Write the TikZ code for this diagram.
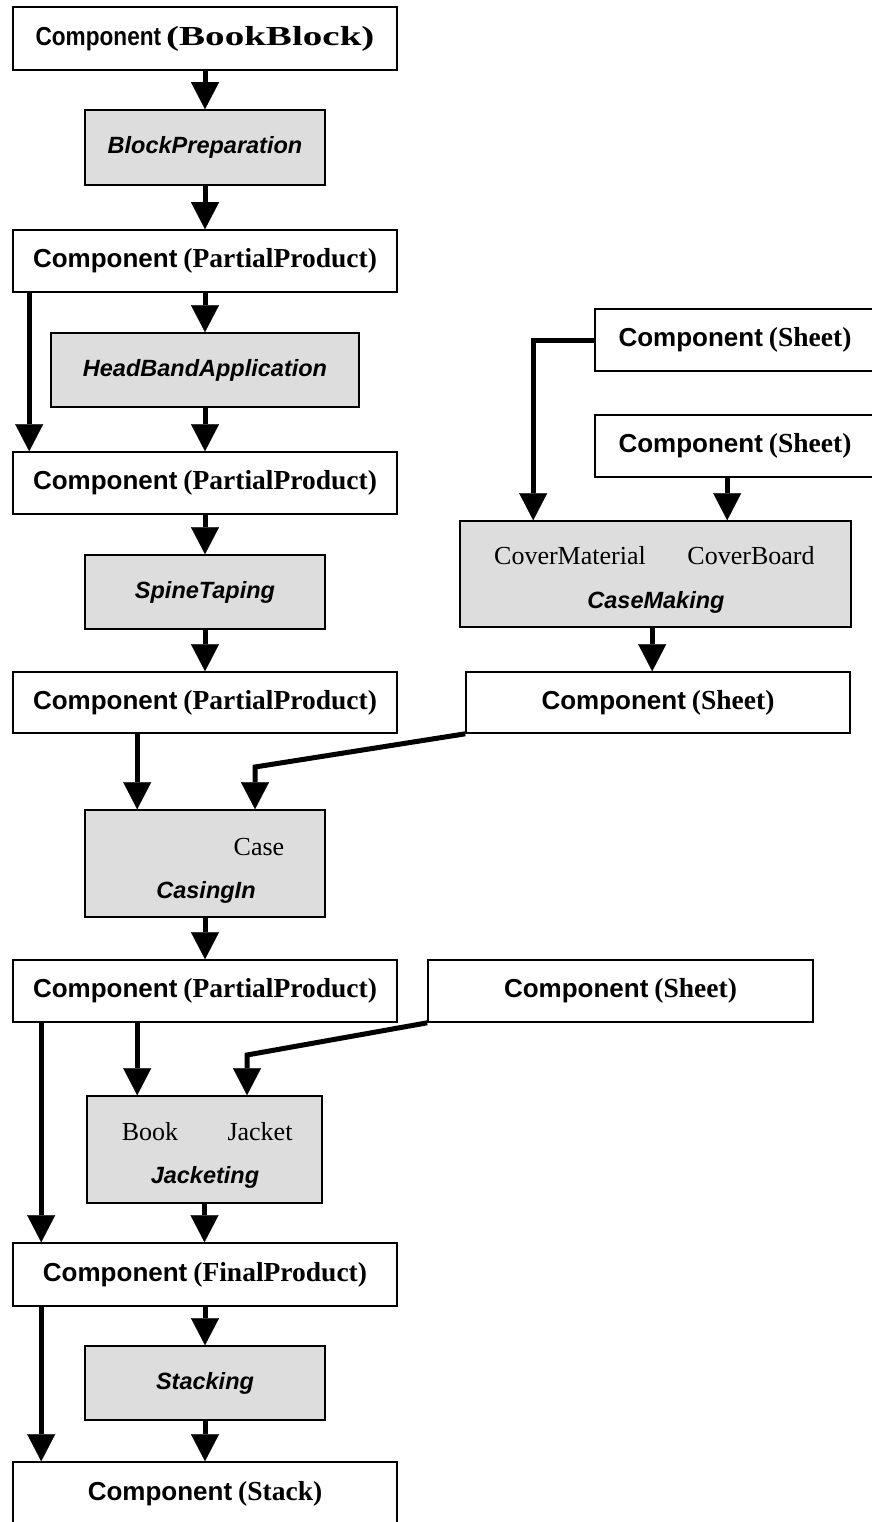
\documentclass[tikz,border=0pt]{standalone}
\usepackage{fontspec}
\usepackage{graphicx}
\setmainfont{Liberation Serif}
\newfontfamily\arialfont{Liberation Sans}
\usetikzlibrary{arrows.meta,calc}

% label helpers
\newcommand{\complabel}[1]{{\fontsize{26}{30}\selectfont\arialfont\bfseries Component}\hspace{6pt}{\fontsize{27.5}{30}\selectfont\bfseries (#1)}}
\newcommand{\procfont}{\fontsize{23.5}{28}\selectfont\arialfont\bfseries\itshape}
\newcommand{\rolefont}{\fontsize{26}{30}\selectfont}

\begin{document}
\begin{tikzpicture}[x=1pt,y=-1pt,
  compbox/.style={draw=black, line width=1.6pt, fill=white, rectangle, inner sep=0pt,
    minimum width=#1, minimum height=62pt},
  compbox/.default=384pt,
  procbox/.style={draw=black, line width=1.6pt, fill=procgray, rectangle, inner sep=0pt},
  role/.style={anchor=base, inner sep=0pt, font=\rolefont},
  proclabel/.style={anchor=base, inner sep=0pt, font=\procfont},
  arr/.style={line width=5pt, -{Triangle[width=28pt,length=27pt,line width=0.1pt]}}
]
\definecolor{procgray}{HTML}{DDDDDD}
\useasboundingbox (0,0) rectangle (872,1522);
\clip (0,0) rectangle (872,1522);

% main column
\node[compbox, minimum height=63pt] (bb) at (205,38.5)
  {\scalebox{0.87}[1]{\fontsize{26}{30}\selectfont\arialfont\bfseries Component}\hspace{5pt}\scalebox{1.42}[1]{\fontsize{27.5}{30}\selectfont\bfseries (BookBlock)}};
\node[procbox, minimum width=240pt, minimum height=75pt, font=\procfont] (bp) at (205,147.5) {BlockPreparation};
\node[compbox] (pp1) at (205,261) {\complabel{PartialProduct}};
\node[procbox, minimum width=308pt, minimum height=74pt, font=\procfont] (hb) at (205,370) {HeadBandApplication};
\node[compbox] (pp2) at (205,483) {\complabel{PartialProduct}};
\node[procbox, minimum width=240pt, minimum height=74pt, font=\procfont] (st) at (205,592) {SpineTaping};
\node[compbox, minimum height=61pt] (pp3) at (205,702.5) {\complabel{PartialProduct}};
\node[procbox, minimum width=240pt, minimum height=107pt] (ci) at (205,863.5) {};
\node[role] (ciCase) at (259,855) {Case};
\node[proclabel] (ciName) at (206,898) {CasingIn};
\node[compbox] (pp4) at (205,991) {\complabel{PartialProduct}};
\node[procbox, minimum width=235pt, minimum height=107pt] (jk) at (204.5,1149.5) {};
\node[role] (jkBook) at (150,1140) {Book};
\node[role] (jkJacket) at (260,1140) {Jacket};
\node[proclabel] (jkName) at (205,1183) {Jacketing};
\node[compbox, minimum height=63pt] (fp) at (205,1274.5) {\complabel{FinalProduct}};
\node[procbox, minimum width=240pt, minimum height=74pt, font=\procfont] (sk) at (205,1383) {Stacking};
\node[compbox, minimum height=64pt] (stk) at (205,1494) {\complabel{Stack}};

% case branch
\node[compbox, minimum width=280pt] (sh1) at (735,340) {\complabel{Sheet}};
\node[compbox, minimum width=280pt] (sh2) at (735,446) {\complabel{Sheet}};
\node[procbox, minimum width=391pt, minimum height=106pt] (cm) at (655.5,574) {};
\node[role] (cmMat) at (570,564) {CoverMaterial};
\node[role] (cmBoard) at (751,564) {CoverBoard};
\node[proclabel] (cmName) at (656,608) {CaseMaking};
\node[compbox, minimum height=61pt] (sh3) at (658,702.5) {\complabel{Sheet}};

% jacket sheet
\node[compbox, minimum width=385pt] (sh4) at (620.5,991) {\complabel{Sheet}};

% flow along the main column
\draw[arr] (bb.south) -- (bp.north);
\draw[arr] (bp.south) -- (pp1.north);
\draw[arr] (pp1.south) -- (hb.north);
\draw[arr] (hb.south) -- (pp2.north);
\draw[arr] ($(pp1.south west)+(17,0)$) coordinate (s1) -- (s1 |- pp2.north);
\draw[arr] (pp2.south) -- (st.north);
\draw[arr] (st.south) -- (pp3.north);
\draw[arr] ($(pp3.south west)+(125,0)$) coordinate (s2) -- (s2 |- ci.north);
\draw[arr] (ci.south) -- (pp4.north);
\draw[arr] ($(pp4.south west)+(125,0)$) coordinate (s3) -- (s3 |- jk.north);
\draw[arr] ($(pp4.south west)+(29,0)$) coordinate (s4) -- (s4 |- fp.north);
\draw[arr] (jk.south) -- (jk.south |- fp.north);
\draw[arr] (fp.south) -- (sk.north);
\draw[arr] (sk.south) -- (stk.north);
\draw[arr] ($(fp.south west)+(29,0)$) coordinate (s5) -- (s5 |- stk.north);

% case making inputs and output
\draw[arr] (sh1.west) -| ($(cm.north west)+(74,0)$);
\draw[arr] ($(sh2.south west)+(133,0)$) coordinate (s6) -- (s6 |- cm.north);
\draw[arr] ($(cm.south west)+(193,0)$) coordinate (s7) -- (s7 |- sh3.north);

% sheets feeding casing-in and jacketing
\coordinate (k1) at (255,767);
\draw[arr] (sh3.south west) -- (k1) -- (k1 |- ci.north);
\coordinate (k2) at (247,1055);
\draw[arr] (sh4.south west) -- (k2) -- (k2 |- jk.north);
\end{tikzpicture}
\end{document}
